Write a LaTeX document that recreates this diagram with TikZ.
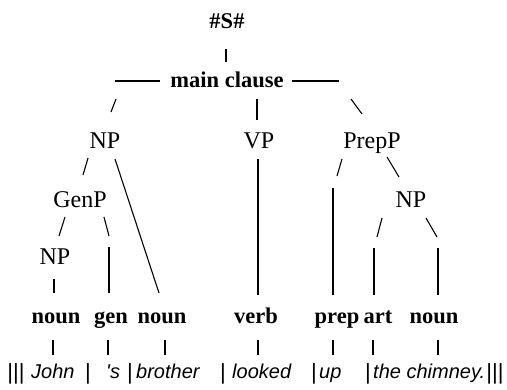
\documentclass[tikz,border=0pt]{standalone}
\usepackage{fontspec}
\setmainfont{Liberation Serif}
\newfontfamily\wordfont{Liberation Sans}
\usetikzlibrary{positioning}

\begin{document}
\begin{tikzpicture}[x=1pt,y=-1pt]
				\tikzset{every node/.style={inner sep=0pt, anchor=base},
				cat/.style={font=\fontsize{24}{28}\selectfont},
				bcat/.style={font=\fontsize{22.5}{27}\selectfont\bfseries},
				word/.style={anchor=base west, font=\fontsize{20}{24}\selectfont\wordfont\itshape},
				sep/.style={anchor=base, font=\fontsize{22}{26}\selectfont\wordfont},
				tick/.style={line width=1.1pt}}
				\useasboundingbox (0,0) rectangle (507,389);
				% top of the tree
				\node [bcat] (s) at (227,28) {\#S\#};
				\node [bcat] (mc) at (227,87) {main clause};
				\node [cat] (np) at (105,148) {NP};
				\node [cat] (vp) at (259,148) {VP};
				\node [cat] (pp) at (372,148) {PrepP};
				\node [cat] (genp) at (80,207) {GenP};
				\node [cat] (np2) at (411,207) {NP};
				\node [cat] (np3) at (55,264) {NP};
				% word classes
				\node [bcat] (n1) at (56,323) {noun};
				\node [bcat] (gen) at (111,323) {gen};
				\node [bcat] (n2) at (162,323) {noun};
				\node [bcat] (verb) at (256,323) {verb};
				\node [bcat] (prep) at (337,323) {prep};
				\node [bcat] (art) at (378,323) {art};
				\node [bcat] (n3) at (434,323) {noun};
				% the sentence
				\node [sep] (b0) at (16,379) {|||};
				\node [word] (w1) at (31,378) {John};
				\node [sep] (b1) at (88,379) {|};
				\node [word] (w2) at (106,378) {'s};
				\node [sep] (b2) at (130,379) {|};
				\node [word] (w3) at (136,378) {brother};
				\node [sep] (b3) at (223,379) {|};
				\node [word] (w4) at (232,378) {looked};
				\node [sep] (b4) at (314,379) {|};
				\node [word] (w5) at (319,378) {up};
				\node [sep] (b5) at (368,379) {|};
				\node [word] (w6) at (373,378) {the chimney.};
				\node [sep] (b6) at (495,379) {|||};
				% branch strokes
				\foreach \xa/\ya/\xb/\yb [count=\i] in {226/49/226/62, 115/81/160/81, 292/81/339/81,
					116/99/111/112, 257/99/257/120, 351/99/362/114,
					88/158/83/175, 115/159/159/293, 258/159/258/295,
					342/159/337/176, 387/157/399/177, 333/188/333/295,
					65/217/59/236, 104/217/109/236, 109/247/109/293,
					382/218/377/237, 426/218/437/237, 374/248/374/295,
					438/248/438/295, 54/279/54/293}
					\draw [tick] (\xa,\ya) coordinate (t\i a) -- (\xb,\yb) coordinate (t\i b);
				% strokes down to the words
				\foreach \xx [count=\i] in {53,108,165,258,333,373,438}
					\draw [tick] (\xx,340) coordinate (d\i a) -- (\xx,355) coordinate (d\i b);
\end{tikzpicture}
\end{document}
